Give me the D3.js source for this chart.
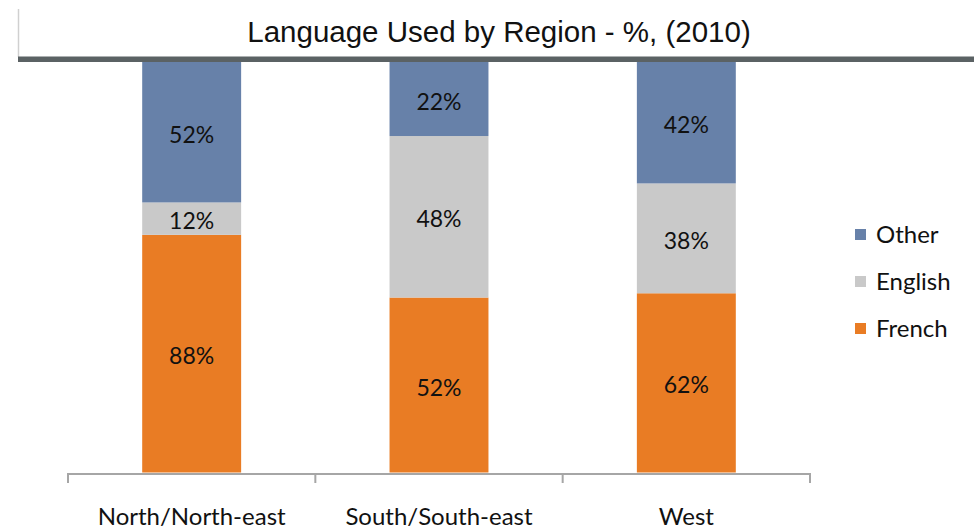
<!DOCTYPE html>
<html><head><meta charset="utf-8">
<script src="https://cdn.jsdelivr.net/npm/d3@7"></script>
<style>body{margin:0;background:#fff;} svg{display:block;}</style>
</head><body>
<svg id="c" width="974" height="529"></svg>
<script>
const categories = ["North/North-east", "South/South-east", "West"];
const seriesNames = ["French", "English", "Other"];
const french = [88, 52, 62];
const english = [12, 48, 38];
const other = [52, 22, 42];
const frenchLabels = ["88%", "52%", "62%"];
const englishLabels = ["12%", "48%", "38%"];
const otherLabels = ["52%", "22%", "42%"];
const colors = {French: "#E97C24", English: "#C9C9C9", Other: "#6781A9"};
const title = "Language Used by Region - %, (2010)";

const svg = d3.select("#c");
const W = 974, H = 529;
const x0 = 68, x1 = 810, yTop = 62, yBot = 472.5;
const FONT = "Lato, 'Open Sans', sans-serif";

const rows = categories.map((c, i) => ({cat: c, French: french[i], English: english[i], Other: other[i],
  lab: {French: frenchLabels[i], English: englishLabels[i], Other: otherLabels[i]}}));

const stack = d3.stack().keys(seriesNames).offset(d3.stackOffsetExpand);
const series = stack(rows);

const x = d3.scaleBand().domain(categories).range([x0, x1]).paddingInner(0.6).paddingOuter(0.3);
const y = d3.scaleLinear().domain([0, 1]).range([yBot, yTop]);

const g = svg.append("g");
series.forEach(s => {
  const key = s.key;
  const gs = g.append("g");
  gs.selectAll("rect").data(s).join("rect")
    .attr("x", d => x(d.data.cat))
    .attr("width", x.bandwidth())
    .attr("y", d => y(d[1]))
    .attr("height", d => y(d[0]) - y(d[1]))
    .attr("fill", colors[key]);
  gs.selectAll("text").data(s).join("text")
    .attr("x", d => x(d.data.cat) + x.bandwidth() / 2)
    .attr("y", d => (y(d[0]) + y(d[1])) / 2)
    .attr("dy", "0.46em")
    .attr("text-anchor", "middle")
    .attr("font-family", FONT)
    .attr("font-size", 23)
    .attr("fill", "#111")
    .text(d => d.data.lab[key]);
});

// category axis
const axisY = 474;
const bandStep = x.step();
const ax = svg.append("g");
ax.append("line").attr("x1", x0).attr("x2", x1).attr("y1", axisY).attr("y2", axisY)
  .attr("stroke", "#A6A6A6").attr("stroke-width", 2);
const tickXs = [x0].concat(categories.map(c => x(c) + x.bandwidth() / 2 + bandStep / 2));
tickXs[tickXs.length - 1] = x1;
ax.selectAll("line.tick").data(tickXs).join("line").attr("class", "tick")
  .attr("x1", d => d).attr("x2", d => d).attr("y1", axisY - 1).attr("y2", axisY + 9)
  .attr("stroke", "#A6A6A6").attr("stroke-width", 2);
ax.selectAll("text").data(categories).join("text")
  .attr("x", d => x(d) + x.bandwidth() / 2)
  .attr("y", 525)
  .attr("text-anchor", "middle")
  .attr("font-family", FONT)
  .attr("font-size", 24)
  .attr("fill", "#111")
  .text(d => d);

// title box
svg.append("rect").attr("x", 18).attr("y", 0).attr("width", W - 18).attr("height", 57).attr("fill", "#fff");
svg.append("line").attr("x1", 18.5).attr("x2", 18.5).attr("y1", 9).attr("y2", 57)
  .attr("stroke", "#D0D0D0").attr("stroke-width", 1.5);
svg.append("rect").attr("x", 18).attr("y", 56.5).attr("width", W - 18).attr("height", 5.5).attr("fill", "#5B6264");
svg.append("text").attr("x", 499).attr("y", 42.3).attr("text-anchor", "middle")
  .attr("font-family", "'Liberation Sans Narrow', 'Arial Narrow', sans-serif")
  .attr("font-size", 29.5).attr("fill", "#111").text(title);

// legend
const legendKeys = ["Other", "English", "French"];
const lg = svg.append("g");
legendKeys.forEach((k, i) => {
  const ly = 229 + i * 47;
  lg.append("rect").attr("x", 855).attr("y", ly).attr("width", 11).attr("height", 11).attr("fill", colors[k]);
  lg.append("text").attr("x", 876).attr("y", ly + 14)
    .attr("font-family", FONT).attr("font-size", 24).attr("fill", "#111").text(k);
});
</script>
</body></html>
